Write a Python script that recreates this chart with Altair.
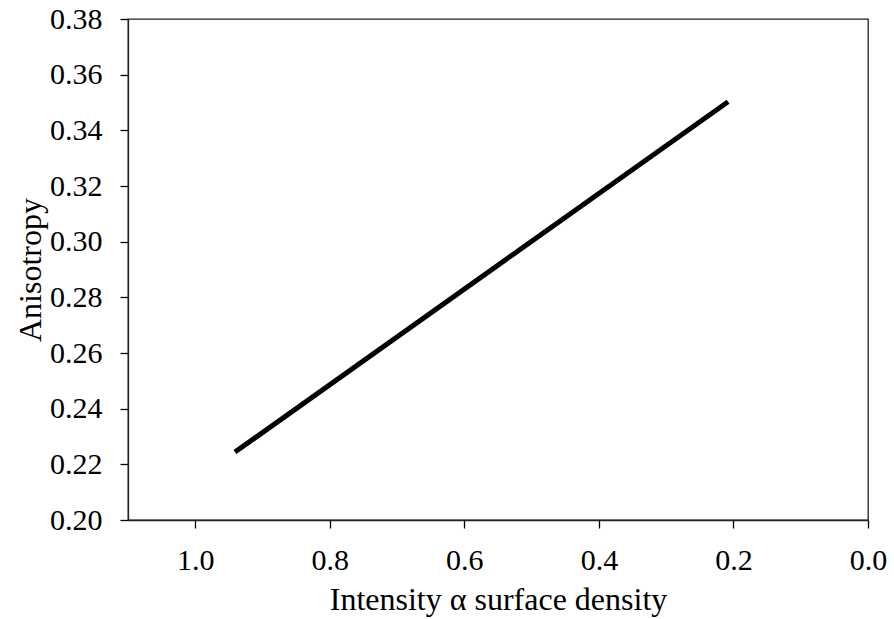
import altair as alt
import pandas as pd

intensity = [0.941, 0.208]
anisotropy = [0.2244, 0.3503]

x_ticks = [0.0, 0.2, 0.4, 0.6, 0.8, 1.0]
y_ticks = [0.20, 0.22, 0.24, 0.26, 0.28, 0.30, 0.32, 0.34, 0.36, 0.38]

df = pd.DataFrame({"intensity": intensity, "anisotropy": anisotropy})

FONT = "Liberation Serif"

chart = alt.Chart(df).mark_line(color="black", strokeWidth=5).encode(
    x=alt.X("intensity:Q",
            scale=alt.Scale(domain=[0, 1.1], reverse=True, nice=False, zero=False),
            axis=alt.Axis(title="Intensity α surface density", values=x_ticks,
                          format=".1f", grid=False, tickSize=8, labelPadding=17,
                          labelFlush=False, titlePadding=9)),
    y=alt.Y("anisotropy:Q",
            scale=alt.Scale(domain=[0.20, 0.38], nice=False, zero=False),
            axis=alt.Axis(title="Anisotropy", values=y_ticks,
                          format=".2f", grid=False, tickSize=8, labelPadding=18,
                          labelFlush=False, titlePadding=2)),
).properties(
    width=740, height=501,
    autosize=alt.AutoSizeParams(type="none"),
    padding={"left": 128, "top": 19, "right": 26, "bottom": 99},
    background="white",
).configure_axis(
    domainColor="#222222", tickColor="black", labelColor="black", titleColor="black",
    labelFont=FONT, titleFont=FONT, labelFontSize=30, titleFontSize=32,
    titleFontWeight="normal", domainWidth=1.3, tickWidth=1.3,
).configure_view(
    stroke="#222222", strokeWidth=1.3
)

chart.save("out.html", embed_options={"renderer": "svg", "actions": False})
